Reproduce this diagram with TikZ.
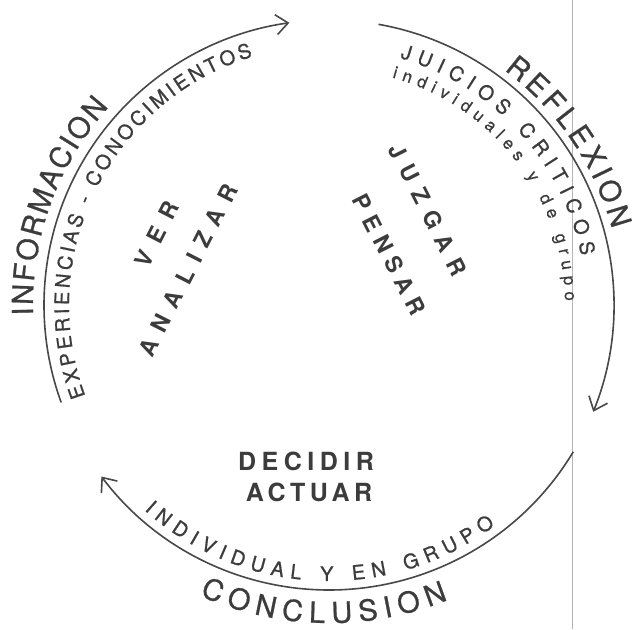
\documentclass[tikz,border=0pt]{standalone}
\usepackage{fontspec}
\setmainfont{TeX Gyre Heros}
\usetikzlibrary{arrows.meta,decorations.text}
\tikzset{%
  cyclearc/.style={draw=cline,line width=1.6pt,
    -{Straight Barb[length=12pt,width=20pt,line width=1.6pt]}},
  boldword/.style={text=ctext,inner sep=0pt,
    font=\fontsize{23}{23}\selectfont\bfseries\addfontfeature{LetterSpace=#1}},
  boldword/.default=40
}

\begin{document}
\begin{tikzpicture}[x=1pt,y=1pt]
% ---- colors ----
\definecolor{cline}{HTML}{484848}   % arcs
\definecolor{ctext}{HTML}{3C3C3C}   % lettering
\definecolor{cpage}{HTML}{B4B4B4}   % page edge rule

% geometry
\def\R{285}     % arc radius
\coordinate (O) at (329,324);   % centre of the cycle

% fonts for the lettering on the arcs
\newcommand{\outerfont}{\color{ctext}\fontsize{29}{29}\selectfont\addfontfeature{FakeBold=0.8}}
\newcommand{\innerfont}{\color{ctext}\fontsize{20}{20}\selectfont\addfontfeature{FakeBold=0.8}}
\newcommand{\smallfont}{\color{ctext}\fontsize{17}{17}\selectfont\addfontfeature{FakeBold=0.6}}

\useasboundingbox (0,0) rectangle (636,629);
\fill[white] (0,0) rectangle (636,629);

% page edge
\draw[cpage,line width=0.8pt] (572,0) -- (572,629);

% ===================== the three arcs =====================
\draw[cyclearc] (O) ++(200:\R) arc[start angle=200,end angle=98,radius=\R];
\draw[cyclearc] (O) ++(80:\R)  arc[start angle=80,end angle=-22,radius=\R];
\draw[cyclearc] (O) ++(-31:\R) arc[start angle=-31,end angle=-143,radius=\R];

% ===================== ver / analizar =====================
\path[decorate,decoration={text along path,text align={fit to path},
    text={|\outerfont|INFORMACION}}]
  (O) ++(182:296) arc[start angle=182,end angle=138,radius=296];
\path[decorate,decoration={text along path,text align={fit to path},
    text={|\innerfont|EXPERIENCIAS - CONOCIMIENTOS}}]
  (O) ++(200.5:260) arc[start angle=200.5,end angle=107,radius=260];
\node[boldword=50,rotate=63] (ver)      at (157,395) {VER};
\node[boldword=45,rotate=63] (analizar) at (188,359) {ANALIZAR};

% ===================== juzgar / pensar =====================
\path[decorate,decoration={text along path,text align={fit to path},
    text={|\outerfont|REFLEXION}}]
  (O) ++(53.3:293) arc[start angle=53.3,end angle=15,radius=293];
\path[decorate,decoration={text along path,text align={fit to path},
    text={|\innerfont|JUICIOS CRITICOS}}]
  (O) ++(74:257) arc[start angle=74,end angle=11,radius=257];
\path[decorate,decoration={text along path,text align={fit to path},
    text={|\smallfont|individuales y de grupo}}]
  (O) ++(74.5:236) arc[start angle=74.5,end angle=1,radius=236];
\node[boldword=44,rotate=-63] (juzgar) at (428,419) {JUZGAR};
\node[boldword=32,rotate=-63] (pensar) at (389,374) {PENSAR};

% ===================== decidir / actuar =====================
\path[decorate,decoration={text along path,text align={fit to path},
    text={|\innerfont|INDIVIDUAL Y EN GRUPO}}]
  (O) ++(-132:276) arc[start angle=-132,end angle=-53,radius=276];
\path[decorate,decoration={text along path,text align={fit to path},
    text={|\outerfont|CONCLUSION}}]
  (O) ++(-114:318) arc[start angle=-114,end angle=-68,radius=318];
\node[boldword=22,font=\fontsize{25}{25}\selectfont\bfseries\addfontfeature{LetterSpace=22}]
  (decidir) at (306,168) {DECIDIR};
\node[boldword=18,font=\fontsize{25}{25}\selectfont\bfseries\addfontfeature{LetterSpace=18}]
  (actuar) at (309,137) {ACTUAR};

\end{tikzpicture}
\end{document}
